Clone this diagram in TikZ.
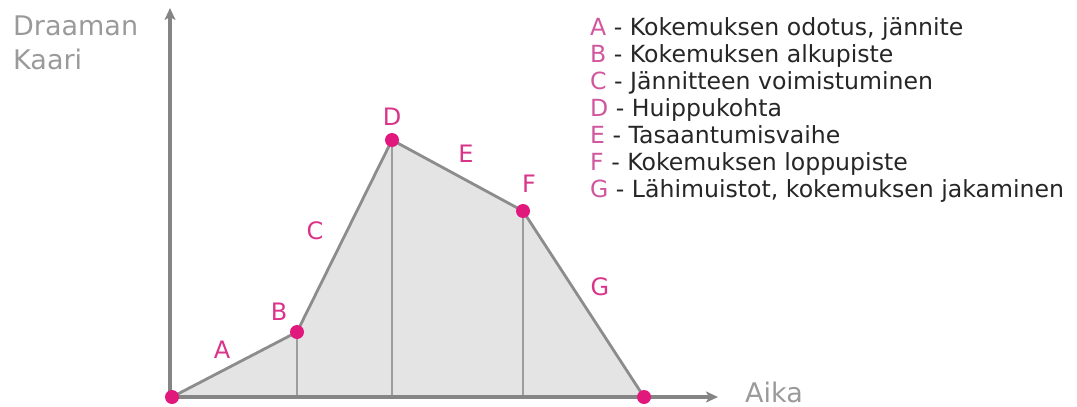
\documentclass[tikz,border=0pt]{standalone}
\usepackage{fontspec}
\setmainfont{DejaVu Sans}
\usetikzlibrary{arrows.meta}
\definecolor{axisgray}{HTML}{858585}
\definecolor{linegray}{HTML}{8C8C8C}
\definecolor{fillgray}{HTML}{E4E4E4}
\definecolor{dotpink}{HTML}{E2197D}
\definecolor{labpink}{HTML}{D9348A}
\definecolor{legpink}{HTML}{D0579E}
\definecolor{titlegray}{HTML}{9A9A9A}
\definecolor{legtext}{HTML}{262626}
\tikzset{
  axis/.style={draw=axisgray, line width=3.8pt, -{Stealth[length=12pt,width=11pt,inset=3pt]}},
  curve/.style={draw=linegray, line width=2.8pt, line join=round},
  vline/.style={draw=linegray!85, line width=1.3pt},
  dot/.style={circle, fill=dotpink, inner sep=0pt, minimum size=14pt},
  lab/.style={text=labpink, font=\fontsize{24}{24}\selectfont, inner sep=0pt},
  title/.style={text=titlegray, font=\fontsize{27}{27}\selectfont, anchor=base west, inner sep=0pt},
  legend/.style={text=legtext, font=\fontsize{23.6}{23.6}\selectfont, anchor=base west, inner sep=0pt},
}
\newcommand{\legl}[1]{\textcolor{legpink}{#1}}
\begin{document}
\begin{tikzpicture}[x=1pt,y=-1pt]
\useasboundingbox (0,0) rectangle (1077,407);
\coordinate (O) at (172,397);
\coordinate (Bp) at (297,332);
\coordinate (Dp) at (392,140);
\coordinate (Fp) at (523,211);
\coordinate (Ep) at (644,397);
\coordinate (Bf) at (297,397);
\coordinate (Df) at (392,397);
\coordinate (Ff) at (523,397);
\coordinate (ytop) at (170,8);
\coordinate (ybot) at (170,399);
\coordinate (xstart) at (168,397);
\coordinate (xend) at (718,397);
% fill
\fill[fillgray] (O) -- (Bp) -- (Dp) -- (Fp) -- (Ep) -- cycle;
% verticals
\draw[vline] (Bp) -- (Bf);
\draw[vline] (Dp) -- (Df);
\draw[vline] (Fp) -- (Ff);
% curve
\draw[curve] (O) -- (Bp) -- (Dp) -- (Fp) -- (Ep);
% axes
\draw[axis] (ybot) -- (ytop);
\draw[axis] (xstart) -- (xend);
% dots
\node[dot] (dO) at (O) {};
\node[dot] (dB) at (Bp) {};
\node[dot] (dD) at (Dp) {};
\node[dot] (dF) at (Fp) {};
\node[dot] (dE) at (Ep) {};
% labels
\node[lab] (lA) at (222,350) {A};
\node[lab] (lB) at (279,312) {B};
\node[lab] (lC) at (315,231) {C};
\node[lab] (lD) at (392,117) {D};
\node[lab] (lE) at (466,154) {E};
\node[lab] (lF) at (529,184) {F};
\node[lab] (lG) at (600,287) {G};
% titles
\node[title] (t1) at (13,35) {Draaman};
\node[title] (t2) at (13,69) {Kaari};
\node[title] (t3) at (745,402) {Aika};
% legend
\node[legend] (g1) at (590,35) {\legl{A} - Kokemuksen odotus, jännite};
\node[legend] (g2) at (590,62) {\legl{B} - Kokemuksen alkupiste};
\node[legend] (g3) at (590,89) {\legl{C} - Jännitteen voimistuminen};
\node[legend] (g4) at (590,116) {\legl{D} - Huippukohta};
\node[legend] (g5) at (590,143) {\legl{E} - Tasaantumisvaihe};
\node[legend] (g6) at (590,170) {\legl{F} - Kokemuksen loppupiste};
\node[legend] (g7) at (590,197) {\legl{G} - Lähimuistot, kokemuksen jakaminen};
\end{tikzpicture}
\end{document}
